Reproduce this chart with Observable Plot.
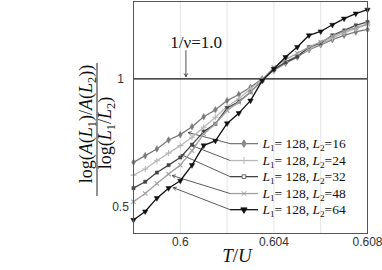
<!DOCTYPE html>
<html><head><meta charset="utf-8">
<script src="https://cdn.jsdelivr.net/npm/d3@7"></script>
<script src="https://cdn.jsdelivr.net/npm/@observablehq/plot@0.6"></script>
<style>body{margin:0;background:#fff}#chart{position:relative;width:382px;height:270px}</style>
</head><body><div id="chart"></div>
<script>
// ---- data ----
const T = [0.598,0.5985,0.599,0.5995,0.6,0.6005,0.601,0.6015,0.602,0.6025,0.603,0.6035,0.604,0.6045,0.605,0.6055,0.606,0.6065,0.607,0.6075,0.608];
const L2_16 = [0.674,0.700,0.726,0.761,0.782,0.813,0.852,0.879,0.915,0.939,0.967,1.000,1.033,1.061,1.085,1.114,1.133,1.153,1.170,1.183,1.193];
const L2_24 = [0.624,0.648,0.680,0.710,0.739,0.772,0.811,0.850,0.892,0.922,0.961,0.996,1.035,1.065,1.091,1.117,1.137,1.159,1.179,1.196,1.213];
const L2_32 = [0.573,0.598,0.634,0.663,0.693,0.743,0.794,0.824,0.886,0.911,0.948,0.993,1.037,1.065,1.087,1.124,1.140,1.170,1.189,1.209,1.222];
const L2_48 = [0.520,0.552,0.591,0.628,0.663,0.719,0.785,0.824,0.876,0.909,0.948,0.996,1.045,1.075,1.100,1.124,1.144,1.166,1.185,1.200,1.214];
const L2_64 = [0.449,0.482,0.534,0.573,0.602,0.663,0.740,0.758,0.826,0.866,0.915,0.993,1.039,1.085,1.124,1.170,1.185,1.211,1.235,1.255,1.270];
const seriesL2 = ["16","24","32","48","64"];
const seriesVals = [L2_16, L2_24, L2_32, L2_48, L2_64];
const L1 = "128";
const xTicks = [0.6, 0.604, 0.608];
const yTicks = [0.5, 1];
const xGrid = [0.6, 0.602, 0.604, 0.606];
const criticalLabel = "1/ν=1.0";
// arrow targets on curves (T, value) for each legend entry
const arrowTargetT = [0.60034, 0.60051, 0.60004, 0.59966, 0.59970];
const arrowTargetV = [0.790, 0.739, 0.704, 0.622, 0.575];

// ---- styles / layout ----
const styles = [
  {stroke:"#7a7a7a", symbol:"diamond", fill:"#7a7a7a", r:2.0, rotate:0, legendFill:"#8a8a8a"},
  {stroke:"#b8b8b8", symbol:"plus", fill:"none", r:2.1, rotate:0},
  {stroke:"#454545", symbol:"square", fill:"#454545", r:1.8, rotate:0, legendFill:"white"},
  {stroke:"#a0a0a0", symbol:"times", fill:"none", r:2.1, rotate:0},
  {stroke:"#111111", symbol:"triangle", fill:"#111111", r:2.0, rotate:180}
];
const legend = {x1:0.60213, x2:0.60332, xm:0.60272, xt:0.60353, rows:[0.747,0.681,0.618,0.552,0.489]};

const rows = seriesL2.map((s,k)=>T.map((t,i)=>({T:t, v:seriesVals[k][i], s})));
const arrows = seriesL2.map((s,k)=>({x1:legend.x1, y1:legend.rows[k], x2:arrowTargetT[k], y2:arrowTargetV[k]}));

const marks = [
  Plot.gridX(xGrid, {stroke:"#e4e4e4", strokeOpacity:1}),
  Plot.ruleY([1], {stroke:"#111", strokeWidth:1.3}),
  Plot.arrow(arrows, {x1:"x1", y1:"y1", x2:"x2", y2:"y2", bend:0, stroke:"#333", strokeWidth:0.8, headLength:6}),
  Plot.arrow([{x:0.60024, y1:1.11, y2:1.009}], {x1:"x", x2:"x", y1:"y1", y2:"y2", bend:0, stroke:"#222", strokeWidth:0.8, headLength:6}),
  Plot.text([criticalLabel], {x:0.60068, y:1.12, text:d=>d, lineAnchor:"bottom", fontSize:17, fontFamily:"Liberation Serif", fill:"#111"})
];
rows.forEach((data,k)=>{
  const st = styles[k];
  marks.push(Plot.line(data, {x:"T", y:"v", stroke:st.stroke, strokeWidth:1.3}));
  marks.push(Plot.dot(data, {x:"T", y:"v", symbol:st.symbol, r:st.r, rotate:st.rotate,
    fill:st.fill, stroke: st.fill==="none" ? st.stroke : st.fill, strokeWidth: st.fill==="none"?1.1:0.5}));
  const ly = legend.rows[k];
  marks.push(Plot.link([0], {x1:legend.x1, x2:legend.x2, y1:ly, y2:ly, stroke:st.stroke, strokeWidth:1.3}));
  const lf = st.legendFill || st.fill;
  marks.push(Plot.dot([0], {x:legend.xm, y:ly, symbol:st.symbol, r:st.r+0.3, rotate:st.rotate,
    fill:lf, stroke: lf==="none" ? st.stroke : (lf==="white" ? "#666" : lf), strokeWidth:1}));
});
marks.push(Plot.frame({stroke:"#555", strokeWidth:1}));
marks.push(Plot.axisX(xTicks, {tickSize:0, tickPadding:4, tickFormat:d=>`${d}`, fontSize:12, fontFamily:"Liberation Sans", fill:"#333", label:null}));
marks.push(Plot.axisY(yTicks, {tickSize:0, tickPadding:13, tickFormat:d=>`${d}`, textAnchor:"middle", fontSize:12, fontFamily:"Liberation Sans", fill:"#333", label:null}));

const plot = Plot.plot({
  width:382, height:270,
  marginLeft:133, marginRight:15, marginTop:1, marginBottom:37,
  x:{domain:[0.598,0.608]},
  y:{domain:[0.396,1.302]},
  style:{background:"white"},
  marks
});
document.getElementById("chart").appendChild(plot);

// ---- rich text (subscripts) via scales ----
const sx = plot.scale("x"), sy = plot.scale("y");
const svg = d3.select(plot);
function rich(parent, parts, size, anchor){
  const t = parent.append("text").attr("font-family","Liberation Serif").attr("font-size",size)
    .attr("fill","#111").attr("text-anchor", anchor || "start");
  let shifted = false;
  parts.forEach(([txt,kind])=>{
    const ts = t.append("tspan").text(txt);
    if (kind==="i") ts.attr("font-style","italic");
    if (kind==="sub"){ ts.attr("font-size", size*0.68).attr("dy", size*0.22); shifted = true; }
    else if (shifted){ ts.attr("dy", -size*0.22); shifted = false; }
  });
  return t;
}
seriesL2.forEach((s,k)=>{
  const g = svg.append("g").attr("transform",`translate(${sx.apply(legend.xt)},${sy.apply(legend.rows[k])+4.5})`);
  rich(g, [["L","i"],["1","sub"],["= "+L1+", ",""],["L","i"],["2","sub"],["="+s,""]], 13.5, "start");
});
// y label as fraction
const gy = svg.append("g");
rich(gy.append("g").attr("transform","translate(92,124) rotate(-90)"),
  [["log(",""],["A","i"],["(",""],["L","i"],["1","sub"],[")/",""],["A","i"],["(",""],["L","i"],["2","sub"],["))",""]], 18, "middle");
rich(gy.append("g").attr("transform","translate(111,133) rotate(-90)"),
  [["log(",""],["L","i"],["1","sub"],["/",""],["L","i"],["2","sub"],[")",""]], 18, "middle");
gy.append("line").attr("x1",97).attr("x2",97).attr("y1",63).attr("y2",196).attr("stroke","#222").attr("stroke-width",1);
// x label
rich(svg.append("g").attr("transform","translate(237,262)"), [["T","i"],["/",""],["U","i"]], 19, "middle");
</script></body></html>
